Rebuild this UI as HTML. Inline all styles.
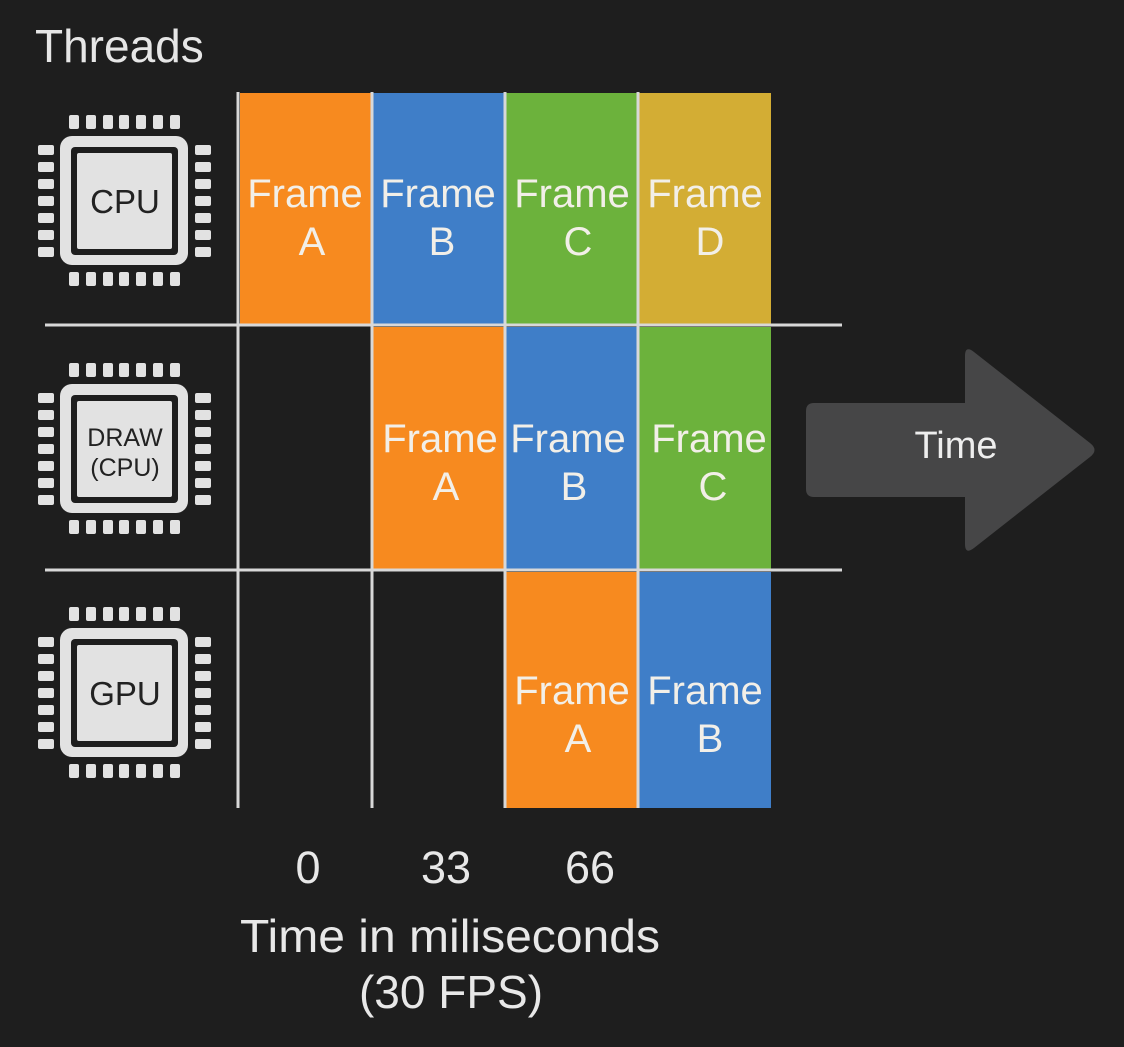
<!DOCTYPE html>
<html><head><meta charset="utf-8"><style>
html,body{margin:0;padding:0;background:#1e1e1e;}
svg{display:block;}
text{font-family:"Liberation Sans",sans-serif;}
</style></head><body>
<svg width="1124" height="1047" viewBox="0 0 1124 1047" xmlns="http://www.w3.org/2000/svg">
<rect width="1124" height="1047" fill="#1e1e1e"/>
<defs>
<g id="chip">
  <rect x="60" y="136" width="128" height="129" rx="12" fill="#e2e2e2"/>
  <rect x="71" y="147" width="107" height="108" rx="4" fill="#1e1e1e"/>
  <rect x="77" y="153" width="95" height="96" rx="2" fill="#e2e2e2"/>
  <g fill="#e2e2e2">
    <rect x="69" y="115" width="10" height="14" rx="2"/><rect x="86" y="115" width="10" height="14" rx="2"/><rect x="103" y="115" width="10" height="14" rx="2"/><rect x="119" y="115" width="10" height="14" rx="2"/><rect x="136" y="115" width="10" height="14" rx="2"/><rect x="153" y="115" width="10" height="14" rx="2"/><rect x="170" y="115" width="10" height="14" rx="2"/>
    <rect x="69" y="272" width="10" height="14" rx="2"/><rect x="86" y="272" width="10" height="14" rx="2"/><rect x="103" y="272" width="10" height="14" rx="2"/><rect x="119" y="272" width="10" height="14" rx="2"/><rect x="136" y="272" width="10" height="14" rx="2"/><rect x="153" y="272" width="10" height="14" rx="2"/><rect x="170" y="272" width="10" height="14" rx="2"/>
    <rect x="38" y="145" width="16" height="10" rx="2"/><rect x="38" y="162" width="16" height="10" rx="2"/><rect x="38" y="179" width="16" height="10" rx="2"/><rect x="38" y="196" width="16" height="10" rx="2"/><rect x="38" y="213" width="16" height="10" rx="2"/><rect x="38" y="230" width="16" height="10" rx="2"/><rect x="38" y="247" width="16" height="10" rx="2"/>
    <rect x="195" y="145" width="16" height="10" rx="2"/><rect x="195" y="162" width="16" height="10" rx="2"/><rect x="195" y="179" width="16" height="10" rx="2"/><rect x="195" y="196" width="16" height="10" rx="2"/><rect x="195" y="213" width="16" height="10" rx="2"/><rect x="195" y="230" width="16" height="10" rx="2"/><rect x="195" y="247" width="16" height="10" rx="2"/>
  </g>
</g>
</defs>
<text x="35" y="62" font-size="46" fill="#e6e6e6">Threads</text>

<use href="#chip"/>
<use href="#chip" transform="translate(0,248)"/>
<use href="#chip" transform="translate(0,492)"/>
<text x="125" y="213" font-size="33" fill="#222" text-anchor="middle">CPU</text>
<text x="125" y="446" font-size="25" fill="#222" text-anchor="middle">DRAW</text>
<text x="125" y="476" font-size="25" fill="#222" text-anchor="middle">(CPU)</text>
<text x="125" y="705" font-size="33" fill="#222" text-anchor="middle">GPU</text>

<rect x="240" y="93" width="131" height="231" fill="#f78a1f"/>
<rect x="373" y="93" width="131" height="231" fill="#3f7ec8"/>
<rect x="506" y="93" width="132" height="231" fill="#6cb23c"/>
<rect x="639" y="93" width="132" height="231" fill="#d3ad34"/>
<rect x="373" y="327" width="131" height="242" fill="#f78a1f"/>
<rect x="506" y="327" width="132" height="242" fill="#3f7ec8"/>
<rect x="639" y="327" width="132" height="242" fill="#6cb23c"/>
<rect x="506" y="572" width="132" height="236" fill="#f78a1f"/>
<rect x="639" y="572" width="132" height="236" fill="#3f7ec8"/>

<g stroke="#d8d8d8" stroke-width="3">
<line x1="238" y1="92" x2="238" y2="808"/>
<line x1="372" y1="92" x2="372" y2="808"/>
<line x1="505" y1="92" x2="505" y2="808"/>
<line x1="638" y1="92" x2="638" y2="808"/>
<line x1="45" y1="325" x2="842" y2="325"/>
<line x1="45" y1="570" x2="842" y2="570"/>
</g>

<g font-size="40" fill="#f2efe8" text-anchor="middle">
<text x="305" y="207">Frame</text><text x="312" y="255">A</text>
<text x="438" y="207">Frame</text><text x="442" y="255">B</text>
<text x="572" y="207">Frame</text><text x="578" y="255">C</text>
<text x="705" y="207">Frame</text><text x="710" y="255">D</text>
<text x="440" y="452">Frame</text><text x="446" y="500">A</text>
<text x="568" y="452">Frame</text><text x="574" y="500">B</text>
<text x="709" y="452">Frame</text><text x="713" y="500">C</text>
<text x="572" y="704">Frame</text><text x="578" y="752">A</text>
<text x="705" y="704">Frame</text><text x="710" y="752">B</text>
</g>

<path d="M814 403 H965 V356 Q965 345 974 352 L1090 443 Q1099 450 1090 457 L974 548 Q965 555 965 544 V497 H814 Q806 497 806 489 V411 Q806 403 814 403 Z" fill="#464647"/>
<text x="956" y="458" font-size="38" fill="#eeeeee" text-anchor="middle">Time</text>

<g fill="#e8e8e8" text-anchor="middle">
<text x="308" y="883" font-size="45">0</text>
<text x="446" y="883" font-size="45">33</text>
<text x="590" y="883" font-size="45">66</text>
<text x="450" y="952" font-size="46" textLength="420" lengthAdjust="spacingAndGlyphs">Time in miliseconds</text>
<text x="451" y="1008" font-size="46">(30 FPS)</text>
</g>
</svg>
</body></html>
